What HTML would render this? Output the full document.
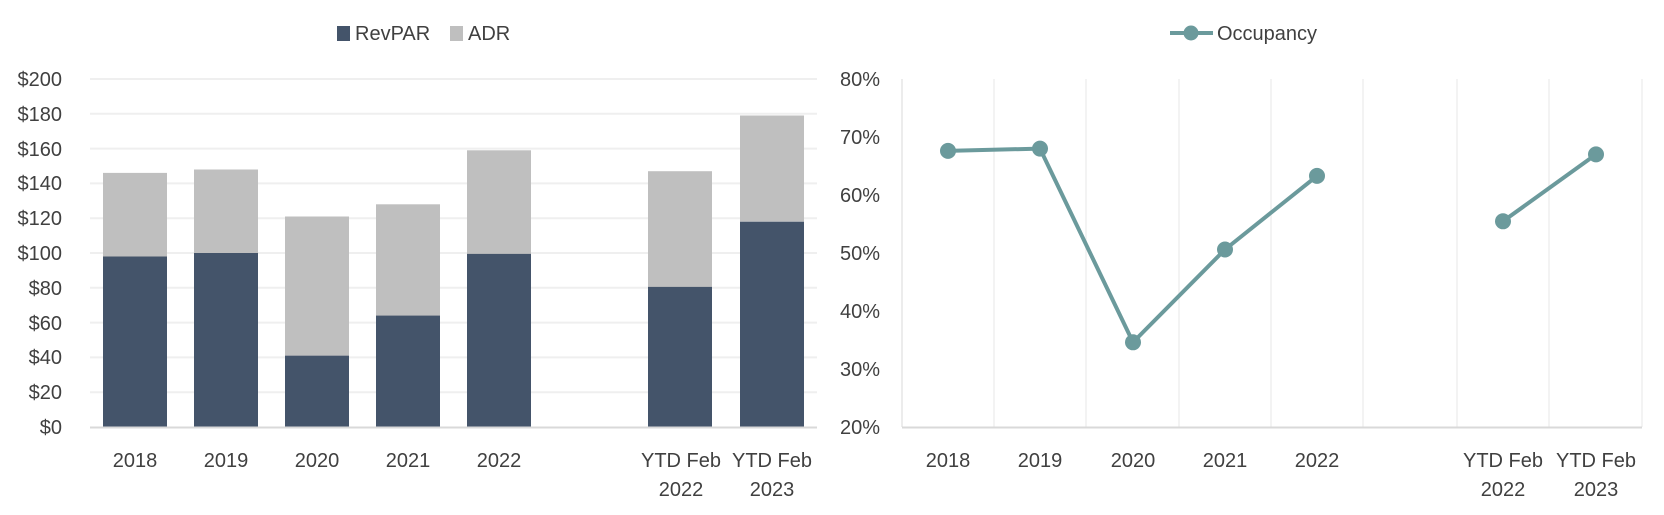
<!DOCTYPE html>
<html><head><meta charset="utf-8"><style>
html,body{margin:0;padding:0;background:#fff;}
svg{display:block;font-family:"Liberation Sans",sans-serif;}
text{fill:#404040;font-size:20px;}
</style></head><body>
<svg width="1664" height="515" viewBox="0 0 1664 515">
<g stroke="#efefef" stroke-width="2">
<line x1="90" x2="817" y1="79" y2="79"/><line x1="90" x2="817" y1="113.8" y2="113.8"/>
<line x1="90" x2="817" y1="148.6" y2="148.6"/><line x1="90" x2="817" y1="183.4" y2="183.4"/>
<line x1="90" x2="817" y1="218.2" y2="218.2"/><line x1="90" x2="817" y1="253" y2="253"/>
<line x1="90" x2="817" y1="287.8" y2="287.8"/><line x1="90" x2="817" y1="322.6" y2="322.6"/>
<line x1="90" x2="817" y1="357.4" y2="357.4"/><line x1="90" x2="817" y1="392.2" y2="392.2"/>
</g>
<g text-anchor="end">
<text x="62" y="86">$200</text><text x="62" y="121">$180</text><text x="62" y="156">$160</text>
<text x="62" y="190">$140</text><text x="62" y="225">$120</text><text x="62" y="260">$100</text>
<text x="62" y="295">$80</text><text x="62" y="330">$60</text><text x="62" y="364">$40</text>
<text x="62" y="399">$20</text><text x="62" y="434">$0</text>
</g>
<g fill="#bfbfbf">
<rect x="103" y="172.9" width="64" height="84"/>
<rect x="194" y="169.5" width="64" height="84"/>
<rect x="285" y="216.5" width="64" height="141"/>
<rect x="376" y="204.3" width="64" height="112"/>
<rect x="467" y="150.3" width="64" height="104"/>
<rect x="648" y="171.2" width="64" height="117"/>
<rect x="740" y="115.5" width="64" height="106"/>
</g>
<g fill="#44546a">
<rect x="103" y="256.5" width="64" height="170.5"/>
<rect x="194" y="253" width="64" height="174"/>
<rect x="285" y="355.7" width="64" height="71.3"/>
<rect x="376" y="315.6" width="64" height="111.4"/>
<rect x="467" y="253.9" width="64" height="173.1"/>
<rect x="648" y="286.9" width="64" height="140.1"/>
<rect x="740" y="221.7" width="64" height="205.3"/>
</g>
<line x1="90" x2="817" y1="427.5" y2="427.5" stroke="#d9d9d9" stroke-width="2"/>
<g text-anchor="middle">
<text x="135" y="467">2018</text><text x="226" y="467">2019</text><text x="317" y="467">2020</text>
<text x="408" y="467">2021</text><text x="499" y="467">2022</text>
<text x="681" y="467">YTD Feb</text><text x="772" y="467">YTD Feb</text>
<text x="681" y="496">2022</text><text x="772" y="496">2023</text>
</g>
<rect x="337" y="26" width="13" height="15" fill="#44546a"/>
<text x="355" y="40">RevPAR</text>
<rect x="450" y="26" width="13" height="15" fill="#bfbfbf"/>
<text x="468" y="40">ADR</text>

<g stroke="#efefef" stroke-width="1.5">
<line x1="994" x2="994" y1="79" y2="427"/><line x1="1086" x2="1086" y1="79" y2="427"/>
<line x1="1179" x2="1179" y1="79" y2="427"/><line x1="1271" x2="1271" y1="79" y2="427"/>
<line x1="1363" x2="1363" y1="79" y2="427"/><line x1="1457" x2="1457" y1="79" y2="427"/>
<line x1="1549" x2="1549" y1="79" y2="427"/><line x1="1642" x2="1642" y1="79" y2="427"/>
</g>
<line x1="902" x2="902" y1="79" y2="427" stroke="#e6e6e6" stroke-width="1.5"/>
<line x1="902" x2="1642" y1="427.5" y2="427.5" stroke="#d9d9d9" stroke-width="2"/>
<g text-anchor="end">
<text x="880" y="86">80%</text><text x="880" y="144">70%</text><text x="880" y="202">60%</text>
<text x="880" y="260">50%</text><text x="880" y="318">40%</text><text x="880" y="376">30%</text>
<text x="880" y="434">20%</text>
</g>
<g stroke="#6b9a9c" stroke-width="4" fill="none" stroke-linejoin="round">
<polyline points="948,150.9 1040,148.6 1133,342.3 1225,249.5 1317,175.9"/>
<polyline points="1503,221.3 1596,154.4"/>
</g>
<g fill="#6b9a9c">
<circle cx="948" cy="150.9" r="8"/><circle cx="1040" cy="148.6" r="8"/>
<circle cx="1133" cy="342.3" r="8"/><circle cx="1225" cy="249.5" r="8"/>
<circle cx="1317" cy="175.9" r="8"/><circle cx="1503" cy="221.3" r="8"/>
<circle cx="1596" cy="154.4" r="8"/>
</g>
<g text-anchor="middle">
<text x="948" y="467">2018</text><text x="1040" y="467">2019</text><text x="1133" y="467">2020</text>
<text x="1225" y="467">2021</text><text x="1317" y="467">2022</text>
<text x="1503" y="467">YTD Feb</text><text x="1596" y="467">YTD Feb</text>
<text x="1503" y="496">2022</text><text x="1596" y="496">2023</text>
</g>
<line x1="1170" x2="1213" y1="33" y2="33" stroke="#6b9a9c" stroke-width="4"/>
<circle cx="1191" cy="33" r="7.5" fill="#6b9a9c"/>
<text x="1217" y="40">Occupancy</text>
</svg>
</body></html>
